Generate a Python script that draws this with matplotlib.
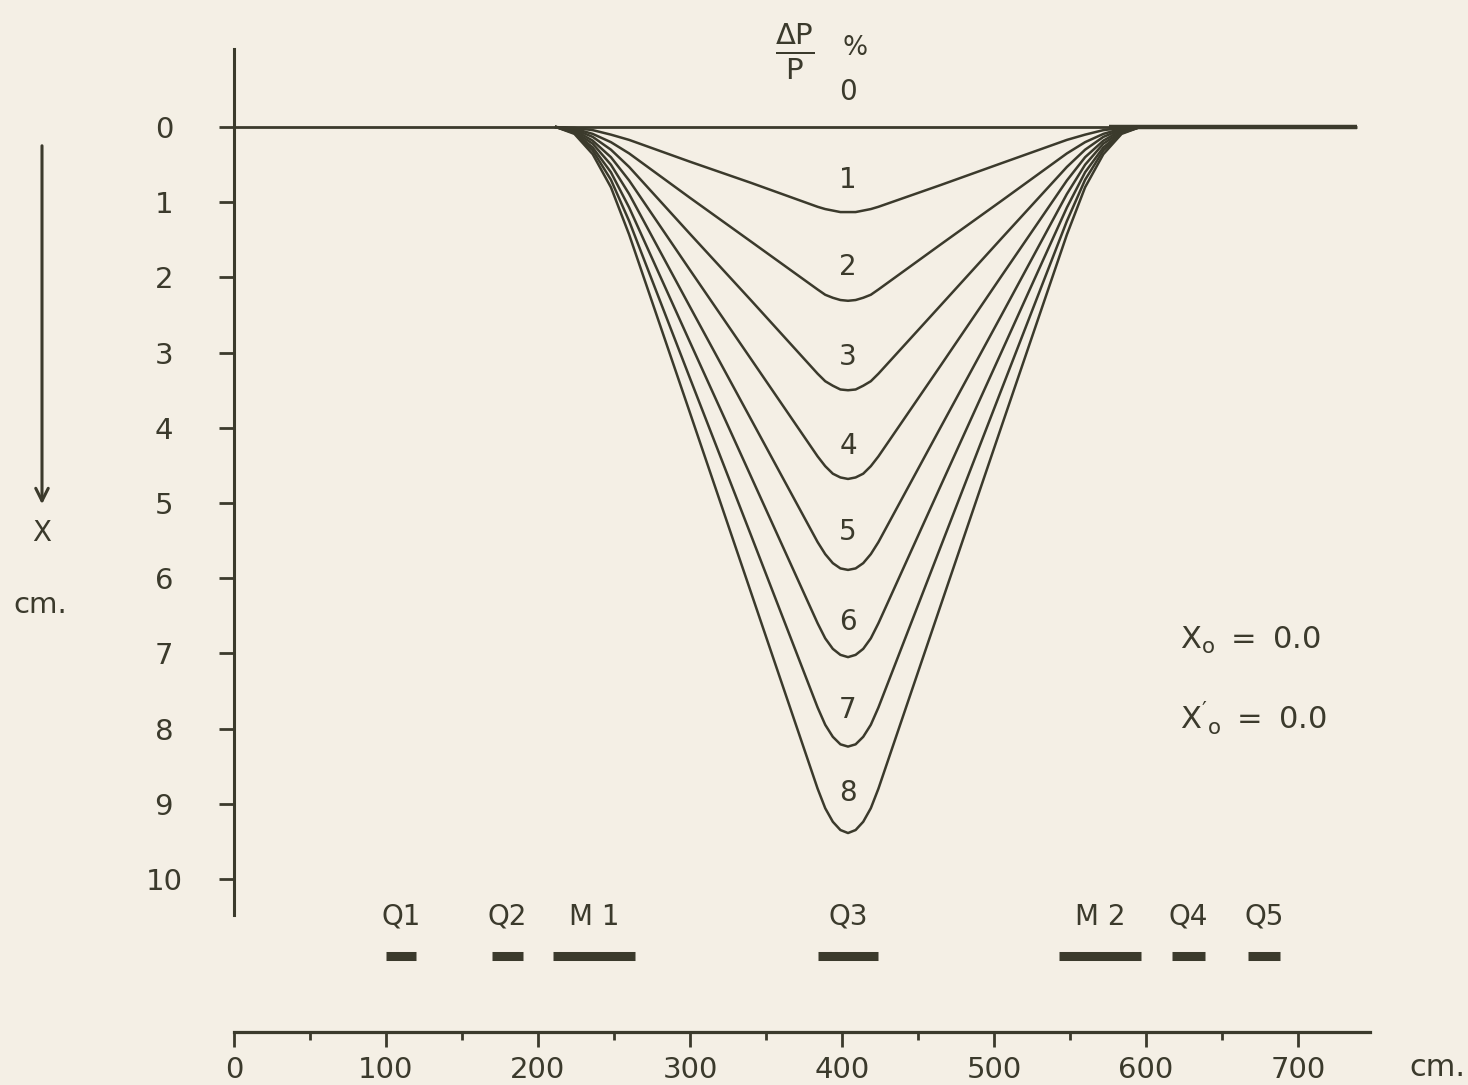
import matplotlib
matplotlib.use("Agg")
import matplotlib.pyplot as plt
from matplotlib.ticker import MultipleLocator

plt.rcParams["font.family"] = ["DejaVu Sans"]
plt.rcParams["mathtext.fontset"] = "dejavusans"

# distance along the beam line (cm)
s_cm = [212, 224, 236, 248, 260, 300, 340, 384, 389, 394, 399, 404, 409, 414, 419, 424,
        465, 505, 548, 560, 572, 584, 596]

# beam displacement X (cm) for dP/P = 1 ... 8 %
x_1 = [0, 0.01, 0.04, 0.10, 0.17, 0.46, 0.74, 1.06, 1.09, 1.11, 1.13, 1.13, 1.13, 1.11, 1.09, 1.06,
       0.77, 0.48, 0.17, 0.10, 0.04, 0.01, 0]
x_2 = [0, 0.02, 0.09, 0.20, 0.35, 0.94, 1.52, 2.16, 2.23, 2.27, 2.30, 2.31, 2.30, 2.27, 2.23, 2.16,
       1.56, 0.98, 0.35, 0.20, 0.09, 0.02, 0]
x_3 = [0, 0.03, 0.13, 0.30, 0.53, 1.42, 2.30, 3.28, 3.38, 3.44, 3.49, 3.50, 3.49, 3.44, 3.38, 3.28,
       2.37, 1.48, 0.53, 0.30, 0.13, 0.03, 0]
x_4 = [0, 0.04, 0.18, 0.40, 0.71, 1.90, 3.08, 4.38, 4.51, 4.61, 4.66, 4.68, 4.66, 4.61, 4.51, 4.38,
       3.17, 1.98, 0.71, 0.40, 0.18, 0.04, 0]
x_5 = [0, 0.06, 0.22, 0.50, 0.89, 2.39, 3.88, 5.52, 5.68, 5.80, 5.87, 5.89, 5.87, 5.80, 5.68, 5.52,
       3.99, 2.50, 0.89, 0.50, 0.22, 0.06, 0]
x_6 = [0, 0.07, 0.27, 0.60, 1.07, 2.86, 4.64, 6.60, 6.80, 6.94, 7.02, 7.05, 7.02, 6.94, 6.80, 6.60,
       4.77, 2.99, 1.07, 0.60, 0.27, 0.07, 0]
x_7 = [0, 0.08, 0.31, 0.70, 1.25, 3.34, 5.42, 7.72, 7.95, 8.11, 8.21, 8.24, 8.21, 8.11, 7.95, 7.72,
       5.58, 3.49, 1.25, 0.70, 0.31, 0.08, 0]
x_8 = [0, 0.09, 0.36, 0.80, 1.43, 3.80, 6.18, 8.80, 9.06, 9.24, 9.35, 9.39, 9.35, 9.24, 9.06, 8.80,
       6.36, 3.98, 1.43, 0.80, 0.36, 0.09, 0]
curves = [x_1, x_2, x_3, x_4, x_5, x_6, x_7, x_8]

# curve labels (percent) and where they sit
pct_labels = ["0", "1", "2", "3", "4", "5", "6", "7", "8"]
pct_label_x = 404
pct_label_y = [-0.47, 0.70, 1.86, 3.06, 4.24, 5.39, 6.58, 7.75, 8.86]

# magnets and quadrupoles along the line (cm)
elem_names = ["Q1", "Q2", "M 1", "Q3", "M 2", "Q4", "Q5"]
elem_start = [100, 170, 210, 384, 543, 617, 667]
elem_end = [120, 190, 264, 424, 597, 639, 688]

ink = "#3b3a2c"
paper = "#f4efe5"

fig = plt.figure(figsize=(14.68, 10.85), dpi=100, facecolor=paper)

# top panel: X versus distance
ax = fig.add_axes([0.1594, 0.1567, 0.7738, 0.7982])
ax.set_facecolor("none")
ax.set_xlim(0, 747.4)
ax.set_ylim(10.48, -1.04)
for side in ["top", "right", "bottom"]:
    ax.spines[side].set_visible(False)
ax.spines["left"].set_linewidth(2.2)
ax.spines["left"].set_color(ink)
ax.set_xticks([])
ax.set_yticks(range(0, 11))
ax.tick_params(axis="y", direction="out", length=10.5, width=2, color=ink,
               labelsize=21, labelcolor=ink, pad=40)
for lab in ax.get_yticklabels():
    lab.set_ha("center")

ax.plot([0, 739], [0, 0], color=ink, lw=2.0, solid_capstyle="butt")
ax.plot([576, 739], [0, 0], color=ink, lw=3.2, solid_capstyle="butt")
for xs in curves:
    ax.plot(s_cm, xs, color=ink, lw=1.8)

for lab, y in zip(pct_labels, pct_label_y):
    ax.text(pct_label_x, y, lab, ha="center", va="center", fontsize=20, color=ink)

ax.text(369, -1.0, r"$\frac{\mathrm{\Delta P}}{\mathrm{P}}$", ha="center", va="center",
        fontsize=30, color=ink)
ax.text(408.5, -1.05, "%", ha="center", va="center", fontsize=19, color=ink)

fig.text(1180 / 1468, 1 - 640 / 1085, r"$\mathregular{X_o\ =\ 0.0}$", ha="left",
         va="center", fontsize=22, color=ink)
fig.text(1180 / 1468, 1 - 718 / 1085, r"$\mathregular{X'_o\ =\ 0.0}$", ha="left",
         va="center", fontsize=22, color=ink)

# arrow and axis name on the far left
ax.annotate("", xy=(42, 1085 - 507), xytext=(42, 1085 - 143),
            xycoords="figure pixels", textcoords="figure pixels",
            arrowprops=dict(arrowstyle="->,head_length=0.9,head_width=0.45",
                            color=ink, lw=2.2))
fig.text(42 / 1468, 1 - 533 / 1085, "X", ha="center", va="center", fontsize=20, color=ink)
fig.text(40 / 1468, 1 - 605 / 1085, "cm.", ha="center", va="center", fontsize=21, color=ink)

# bottom panel: element positions and distance scale
ax2 = fig.add_axes([0.1594, 0.04885, 0.7738, 0.1309])
ax2.set_facecolor("none")
ax2.set_xlim(0, 747.4)
ax2.set_ylim(0, 1)
for side in ["top", "right", "left"]:
    ax2.spines[side].set_visible(False)
ax2.spines["bottom"].set_linewidth(2.3)
ax2.spines["bottom"].set_color(ink)
ax2.set_yticks([])
ax2.xaxis.set_major_locator(MultipleLocator(100))
ax2.xaxis.set_minor_locator(MultipleLocator(50))
ax2.tick_params(axis="x", which="major", direction="out", length=11, width=2,
                color=ink, labelsize=21, labelcolor=ink, pad=6)
ax2.tick_params(axis="x", which="minor", direction="out", length=6, width=2, color=ink)

ax2.hlines([0.535] * len(elem_start), elem_start, elem_end, color=ink, lw=6.5)
for name, a, b in zip(elem_names, elem_start, elem_end):
    ax2.text((a + b) / 2, 0.81, name, ha="center", va="center", fontsize=20, color=ink)

fig.text(1437 / 1468, 1 - 1068 / 1085, "cm.", ha="center", va="center", fontsize=22, color=ink)

fig.savefig("out.png", dpi=100, facecolor=paper)
